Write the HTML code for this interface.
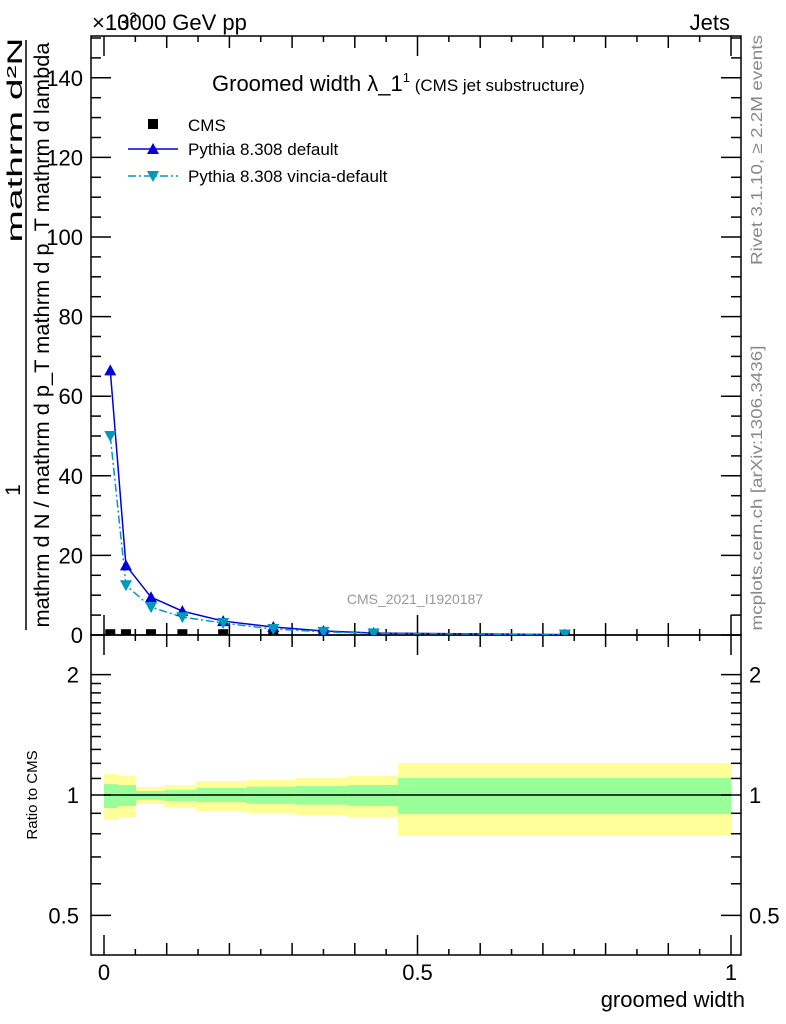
<!DOCTYPE html>
<html><head><meta charset="utf-8"><style>
body{margin:0;background:#fff}
svg{display:block;font-family:"Liberation Sans",sans-serif}
</style></head><body>
<svg id="c" width="786" height="1024" viewBox="0 0 786 1024">
<defs><clipPath id="mainclip"><rect x="91" y="36" width="650" height="599"/></clipPath></defs>
<g id="g"></g>
</svg>
<script>
const edges=[0,0.021,0.051,0.096,0.147,0.227,0.306,0.389,0.469,1.0];
const centers=[0.01,0.035,0.075,0.125,0.19,0.27,0.35,0.43,0.735];
const cmsVals=[0.2,0.2,0.2,0.2,0.2,0.2,0.1,0.1,0.05];
const pyDefault=[66.5,17.5,9.5,6,3.5,2,1,0.5,0.1];
const pyVincia=[50,12.5,7,4.5,3,1.5,0.8,0.4,0.1];
const yelUp=[1.128,1.117,1.047,1.059,1.084,1.09,1.103,1.117,1.202];
const yelDn=[0.866,0.878,0.95,0.933,0.912,0.901,0.891,0.881,0.794];
const grnUp=[1.065,1.059,1.023,1.029,1.041,1.049,1.053,1.059,1.103];
const grnDn=[0.928,0.939,0.973,0.966,0.96,0.951,0.946,0.939,0.897];
const yTicks=[0,20,40,60,80,100,120,140];
const rTicks=[0.5,1,2];
const xTicks=[0,0.5,1];

const NS="http://www.w3.org/2000/svg";
const G=document.getElementById('g');
function el(t,a,txt,parent){const e=document.createElementNS(NS,t);for(const k in a)e.setAttribute(k,a[k]);if(txt!==undefined)e.textContent=txt;(parent||G).appendChild(e);return e;}
const L=91,R=741,T=36,MB=635,RB=955;
const X=v=>104+627*v;
const Y=v=>635-v*3.98;
const RY=r=>795-400*Math.log10(r);

for(let i=0;i<centers.length;i++){
  const x0=X(edges[i]),x1=X(edges[i+1]);
  let e=el('rect',{x:x0,y:RY(yelUp[i]),width:x1-x0,height:RY(yelDn[i])-RY(yelUp[i]),fill:'#ffff99'});
  
  
  e=el('rect',{x:x0,y:RY(grnUp[i]),width:x1-x0,height:RY(grnDn[i])-RY(grnUp[i]),fill:'#99ff99'});
  
  
}
let e=el('line',{x1:X(edges[0]),x2:X(edges[edges.length-1]),y1:RY(1),y2:RY(1),stroke:'#000','stroke-width':1.5});



e=el('rect',{x:L,y:T,width:R-L,height:MB-T,fill:'none',stroke:'#000','stroke-width':1.5});


e=el('rect',{x:L,y:MB,width:R-L,height:RB-MB,fill:'none',stroke:'#000','stroke-width':1.5});



for(let v=0;v<=150;v+=5){const y=Y(v);if(y<T)break;const len=v%20===0?20:10;
  el('line',{x1:L,x2:L+len,y1:y,y2:y,stroke:'#000','stroke-width':1.5});
  el('line',{x1:R,x2:R-len,y1:y,y2:y,stroke:'#000','stroke-width':1.5});}
yTicks.forEach(v=>{const t=el('text',{x:83,y:Y(v)+8,'text-anchor':'end','font-size':22},String(v));
  
  });
for(let k=0;k<=20;k++){const v=k*0.05;const x=X(v);const len=k%10===0?20:(k%2===0?12:6);
  el('line',{x1:x,x2:x,y1:T,y2:T+len,stroke:'#000','stroke-width':1.5});
  el('line',{x1:x,x2:x,y1:MB,y2:MB-len,stroke:'#000','stroke-width':1.5});
  el('line',{x1:x,x2:x,y1:RB,y2:RB-len,stroke:'#000','stroke-width':1.5});
  el('line',{x1:x,x2:x,y1:MB,y2:MB+len,stroke:'#000','stroke-width':1.5});}
xTicks.forEach(v=>{const t=el('text',{x:X(v),y:980,'text-anchor':'middle','font-size':22},String(v));
  
  });
[0.5,0.6,0.7,0.8,0.9,1,1.1,1.2,1.3,1.4,1.5,1.6,1.7,1.8,1.9,2].forEach(r=>{const y=RY(r);const len=rTicks.includes(r)?20:10;
  el('line',{x1:L,x2:L+len,y1:y,y2:y,stroke:'#000','stroke-width':1.5});
  el('line',{x1:R,x2:R-len,y1:y,y2:y,stroke:'#000','stroke-width':1.5});});
rTicks.forEach(r=>{let t=el('text',{x:79,y:RY(r)+8,'text-anchor':'end','font-size':22},String(r));
  
  
  t=el('text',{x:749,y:RY(r)+8,'font-size':22},String(r));
  
  });

const CG=el('g',{'clip-path':'url(#mainclip)'});
const ptsD=centers.map((c,i)=>X(c)+','+Y(pyDefault[i])).join(' ');
e=el('polyline',{points:ptsD,fill:'none',stroke:'#0000dd','stroke-width':1.5},undefined,CG);


const ptsV=centers.map((c,i)=>X(c)+','+Y(pyVincia[i])).join(' ');
e=el('polyline',{points:ptsV,fill:'none',stroke:'#0099bb','stroke-width':1.5,'stroke-dasharray':'8,3,2,3'},undefined,CG);


centers.forEach((c,i)=>{
  const x=X(c);let y=Y(cmsVals[i]);
  let m=el('rect',{x:x-5,y:y-5,width:10,height:10,fill:'#000'},undefined,CG);
  
  
  y=Y(pyDefault[i]);
  m=el('polygon',{points:`${x},${y-6} ${x-6},${y+5} ${x+6},${y+5}`,fill:'#0000dd'},undefined,CG);
  
  
  y=Y(pyVincia[i]);
  m=el('polygon',{points:`${x},${y+6} ${x-6},${y-5} ${x+6},${y-5}`,fill:'#0099bb'},undefined,CG);
  
  
});
</script>
<svg width="786" height="1024" style="position:absolute;left:0;top:0" viewBox="0 0 786 1024">
<text x="92" y="30" font-size="22">×10<tspan font-size="14" dy="-8">3</tspan></text>
<text x="105" y="30" font-size="22">13000 GeV pp</text>
<text x="730" y="30" font-size="22" text-anchor="end">Jets</text>
<text x="212" y="91" font-size="22">Groomed width λ_1<tspan font-size="13" dy="-9">1</tspan><tspan font-size="17" dy="9"> (CMS jet substructure)</tspan></text>
<g>
<rect x="148" y="119" width="10" height="10" fill="#000"/>
<text x="188" y="131" font-size="17">CMS</text>
<line x1="128" x2="178" y1="149" y2="149" stroke="#0000dd" stroke-width="1.5"/>
<polygon points="153,143 147,154 159,154" fill="#0000dd"/>
<text x="188" y="155" font-size="17">Pythia 8.308 default</text>
<line x1="128" x2="178" y1="176" y2="176" stroke="#0099bb" stroke-width="1.5" stroke-dasharray="8,3,2,3"/>
<polygon points="153,182 147,171 159,171" fill="#0099bb"/>
<text x="188" y="182" font-size="17">Pythia 8.308 vincia-default</text>
</g>
<text x="415" y="604" font-size="14" fill="#999" text-anchor="middle">CMS_2021_I1920187</text>
<text transform="translate(762,150) rotate(-90)" font-size="16" fill="#888" text-anchor="middle" textLength="230" lengthAdjust="spacingAndGlyphs">Rivet 3.1.10, ≥ 2.2M events</text>
<text transform="translate(762,488) rotate(-90)" font-size="16" fill="#888" text-anchor="middle" textLength="285" lengthAdjust="spacingAndGlyphs">mcplots.cern.ch [arXiv:1306.3436]</text>
<g font-size="21">
<text transform="translate(22,140) rotate(-90)" text-anchor="middle" textLength="205" lengthAdjust="spacingAndGlyphs">mathrm d²N</text>
<line x1="26" x2="26" y1="40" y2="630" stroke="#000" stroke-width="1.5"/>
<text transform="translate(20,490) rotate(-90)" text-anchor="middle">1</text>
<text transform="translate(49,335) rotate(-90)" text-anchor="middle" textLength="585" lengthAdjust="spacingAndGlyphs">mathrm d N / mathrm d p_T mathrm d p_T mathrm d lambda</text>
</g>
<text transform="translate(37,795) rotate(-90)" font-size="15" text-anchor="middle">Ratio to CMS</text>
<text x="745" y="1007" font-size="22" text-anchor="end">groomed width</text>
</svg>
</body></html>
